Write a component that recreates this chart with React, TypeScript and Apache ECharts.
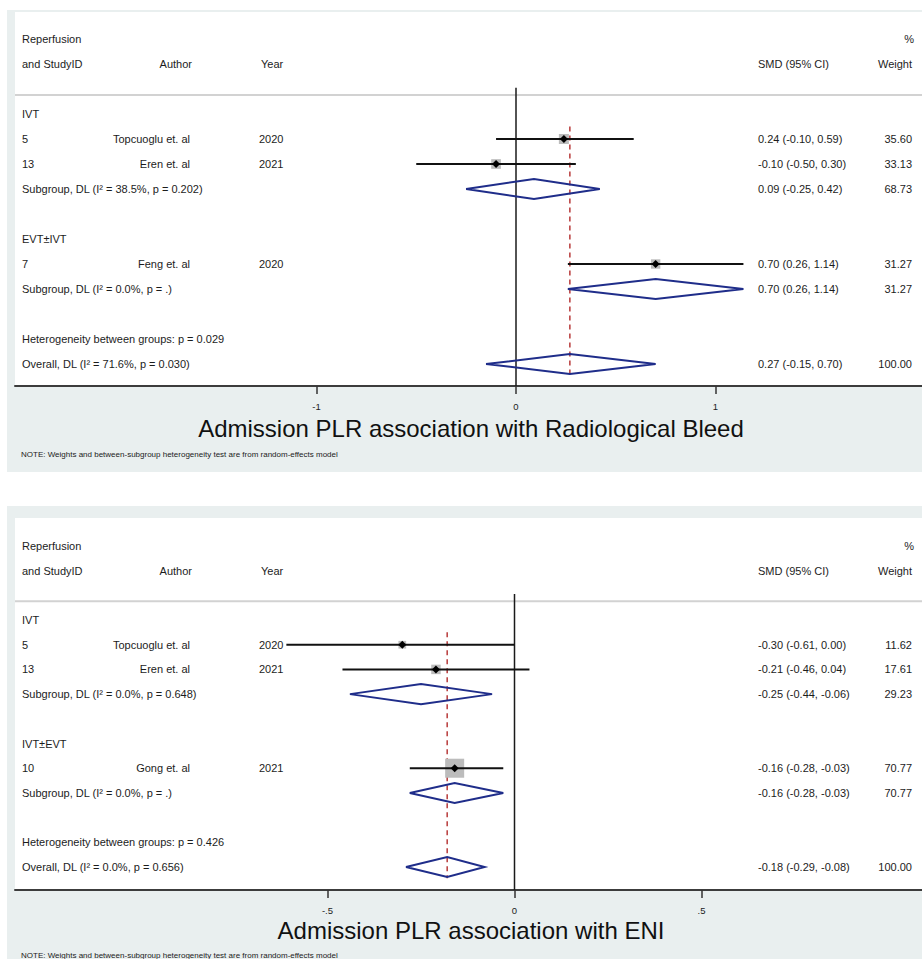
import React, { useEffect, useRef } from "react";
import * as echarts from "echarts";

// ---------- Panel 1: Radiological Bleed ----------
const p1Title = "Admission PLR association with Radiological Bleed";
const p1Groups = ["IVT", "EVT±IVT"];
const p1StudyIds = ["5", "13", "7"];
const p1Authors = ["Topcuoglu et. al", "Eren et. al", "Feng et. al"];
const p1Years = ["2020", "2021", "2020"];
const p1StudyGroup = [0, 0, 1];
const p1Smd = [0.24, -0.1, 0.7];
const p1Lower = [-0.1, -0.5, 0.26];
const p1Upper = [0.59, 0.3, 1.14];
const p1Weight = [35.6, 33.13, 31.27];
const p1SubLabels = ["Subgroup, DL (I² = 38.5%, p = 0.202)", "Subgroup, DL (I² = 0.0%, p = .)"];
const p1SubSmd = [0.09, 0.7];
const p1SubLower = [-0.25, 0.26];
const p1SubUpper = [0.42, 1.14];
const p1SubWeight = [68.73, 31.27];
const p1Het = "Heterogeneity between groups: p = 0.029";
const p1OverallLabel = "Overall, DL (I² = 71.6%, p = 0.030)";
const p1Overall = [0.27, -0.15, 0.7, 100.0]; // smd, lower, upper, weight
const p1TickValues = [-1, 0, 1];
const p1TickLabels = ["-1", "0", "1"];

// ---------- Panel 2: ENI ----------
const p2Title = "Admission PLR association with ENI";
const p2Groups = ["IVT", "IVT±EVT"];
const p2StudyIds = ["5", "13", "10"];
const p2Authors = ["Topcuoglu et. al", "Eren et. al", "Gong et. al"];
const p2Years = ["2020", "2021", "2021"];
const p2StudyGroup = [0, 0, 1];
const p2Smd = [-0.3, -0.21, -0.16];
const p2Lower = [-0.61, -0.46, -0.28];
const p2Upper = [0.0, 0.04, -0.03];
const p2Weight = [11.62, 17.61, 70.77];
const p2SubLabels = ["Subgroup, DL (I² = 0.0%, p = 0.648)", "Subgroup, DL (I² = 0.0%, p = .)"];
const p2SubSmd = [-0.25, -0.16];
const p2SubLower = [-0.44, -0.28];
const p2SubUpper = [-0.06, -0.03];
const p2SubWeight = [29.23, 70.77];
const p2Het = "Heterogeneity between groups: p = 0.426";
const p2OverallLabel = "Overall, DL (I² = 0.0%, p = 0.656)";
const p2Overall = [-0.18, -0.29, -0.08, 100.0];
const p2TickValues = [-0.5, 0, 0.5];
const p2TickLabels = ["-.5", "0", ".5"];

// ---------- Shared texts ----------
const headerTop = ["Reperfusion", "%"];
const headerBottom = ["and StudyID", "Author", "Year", "SMD (95% CI)", "Weight"];
const noteText = "NOTE: Weights and between-subgroup heterogeneity test are from random-effects model";

// ---------- Layout / style constants ----------
const FONT = "Liberation Sans, Arial, Helvetica, sans-serif";
const TXT = "#1c1c1c";
const NAVY = "#1f2d8a";
const COL_ID = 22;
const COL_AUTHOR = 190;
const COL_YEAR = 259;
const COL_CI = 758;
const COL_W = 912;

type Row = {
  kind: string;
  r: number;
  label?: string;
  id?: string;
  author?: string;
  year?: string;
  est?: number;
  lo?: number;
  hi?: number;
  w?: number;
};

function fmt(v: number) {
  return v.toFixed(2);
}

function buildRows(d: any): Row[] {
  const rows: Row[] = [];
  rows.push({ kind: "header1", r: -3 });
  rows.push({ kind: "header2", r: -2 });
  rows.push({ kind: "sep", r: -0.76 });
  rows.push({ kind: "zero", r: -1.05, est: 0 });
  rows.push({ kind: "ref", r: 0.5, est: d.overall[0] });
  let r = 0;
  d.groups.forEach((g: string, gi: number) => {
    rows.push({ kind: "group", r, label: g });
    r++;
    d.studyGroup.forEach((sg: number, si: number) => {
      if (sg !== gi) return;
      rows.push({
        kind: "study",
        r,
        id: d.ids[si],
        author: d.authors[si],
        year: d.years[si],
        est: d.smd[si],
        lo: d.lower[si],
        hi: d.upper[si],
        w: d.weight[si],
      });
      r++;
    });
    rows.push({
      kind: "sub",
      r,
      label: d.subLabels[gi],
      est: d.subSmd[gi],
      lo: d.subLower[gi],
      hi: d.subUpper[gi],
      w: d.subWeight[gi],
    });
    r++;
    r++; // blank row
  });
  rows.push({ kind: "het", r, label: d.het });
  r++;
  rows.push({
    kind: "overall",
    r,
    label: d.overallLabel,
    est: d.overall[0],
    lo: d.overall[1],
    hi: d.overall[2],
    w: d.overall[3],
  });
  return rows;
}

const panel1 = buildRows({
  groups: p1Groups, ids: p1StudyIds, authors: p1Authors, years: p1Years, studyGroup: p1StudyGroup,
  smd: p1Smd, lower: p1Lower, upper: p1Upper, weight: p1Weight,
  subLabels: p1SubLabels, subSmd: p1SubSmd, subLower: p1SubLower, subUpper: p1SubUpper, subWeight: p1SubWeight,
  het: p1Het, overallLabel: p1OverallLabel, overall: p1Overall,
});
const panel2 = buildRows({
  groups: p2Groups, ids: p2StudyIds, authors: p2Authors, years: p2Years, studyGroup: p2StudyGroup,
  smd: p2Smd, lower: p2Lower, upper: p2Upper, weight: p2Weight,
  subLabels: p2SubLabels, subSmd: p2SubSmd, subLower: p2SubLower, subUpper: p2SubUpper, subWeight: p2SubWeight,
  het: p2Het, overallLabel: p2OverallLabel, overall: p2Overall,
});

function txt(x: number, y: number, text: string, align = "left", size = 11) {
  return {
    type: "text",
    x,
    y,
    z2: 10,
    style: { text, fill: TXT, fontSize: size, fontFamily: FONT, align, verticalAlign: "middle" },
  };
}

function makeRender(rows: Row[], boxK: number, yMax: number, refEnd: number) {
  return (params: any, api: any) => {
    const row = rows[params.dataIndex];
    const cs = params.coordSys;
    const y = api.coord([0, row.r])[1];
    const ch: any[] = [];
    const ciText = (rw: Row) => `${fmt(rw.est!)} (${fmt(rw.lo!)}, ${fmt(rw.hi!)})`;
    switch (row.kind) {
      case "header1":
        ch.push(txt(COL_ID, y, headerTop[0]));
        ch.push(txt(COL_W + 2, y, headerTop[1], "right"));
        break;
      case "header2":
        ch.push(txt(COL_ID, y, headerBottom[0]));
        ch.push(txt(COL_AUTHOR + 2, y, headerBottom[1], "right"));
        ch.push(txt(COL_YEAR + 2, y, headerBottom[2]));
        ch.push(txt(COL_CI, y, headerBottom[3]));
        ch.push(txt(COL_W, y, headerBottom[4], "right"));
        break;
      case "sep":
        ch.push({
          type: "line",
          shape: { x1: cs.x, y1: y, x2: cs.x + cs.width, y2: y },
          style: { stroke: "#d2d2d2", lineWidth: 2 },
        });
        break;
      case "zero": {
        const p0 = api.coord([0, row.r]);
        const p1 = api.coord([0, yMax]);
        ch.push({
          type: "line",
          shape: { x1: p0[0], y1: p0[1], x2: p1[0], y2: p1[1] },
          style: { stroke: "#1a1a1a", lineWidth: 1.5 },
        });
        break;
      }
      case "ref": {
        const p0 = api.coord([row.est, row.r]);
        const p1 = api.coord([row.est, refEnd]);
        ch.push({
          type: "line",
          shape: { x1: p0[0], y1: p0[1], x2: p1[0], y2: p1[1] },
          style: { stroke: "#b83a3a", lineWidth: 1.5, lineDash: [5, 4] },
        });
        break;
      }
      case "group":
        ch.push(txt(COL_ID, y, row.label!));
        break;
      case "het":
        ch.push(txt(COL_ID, y, row.label!));
        break;
      case "study": {
        const xl = api.coord([row.lo, row.r])[0];
        const xr = api.coord([row.hi, row.r])[0];
        const xe = api.coord([row.est, row.r])[0];
        const s = boxK * Math.sqrt(row.w!);
        ch.push({
          type: "rect",
          shape: { x: xe - s / 2, y: y - s / 2, width: s, height: s },
          style: { fill: "#bcbcbc" },
        });
        ch.push({
          type: "line",
          shape: { x1: xl, y1: y, x2: xr, y2: y },
          style: { stroke: "#111", lineWidth: 2 },
        });
        ch.push({
          type: "polygon",
          shape: { points: [[xe - 4, y], [xe, y - 4], [xe + 4, y], [xe, y + 4]] },
          style: { fill: "#000" },
        });
        ch.push(txt(COL_ID, y, row.id!));
        ch.push(txt(COL_AUTHOR, y, row.author!, "right"));
        ch.push(txt(COL_YEAR, y, row.year!));
        ch.push(txt(COL_CI, y, ciText(row)));
        ch.push(txt(COL_W, y, fmt(row.w!), "right"));
        break;
      }
      case "sub":
      case "overall": {
        const xl = api.coord([row.lo, row.r])[0];
        const xr = api.coord([row.hi, row.r])[0];
        const xe = api.coord([row.est, row.r])[0];
        ch.push({
          type: "polygon",
          shape: { points: [[xl, y], [xe, y - 10], [xr, y], [xe, y + 10]] },
          style: { fill: "none", stroke: NAVY, lineWidth: 2 },
        });
        ch.push(txt(COL_ID, y, row.label!));
        ch.push(txt(COL_CI, y, ciText(row)));
        ch.push(txt(COL_W, y, fmt(row.w!), "right"));
        break;
      }
    }
    return { type: "group", children: ch };
  };
}

function xAxisFor(gridIndex: number, min: number, max: number, ticks: number[], labels: string[]) {
  return {
    type: "value",
    gridIndex,
    min,
    max,
    position: "bottom",
    axisLine: { show: true, onZero: false, lineStyle: { color: "#3c3c3c", width: 2 } },
    axisTick: { show: true, customValues: ticks, length: 8, lineStyle: { color: "#333", width: 1.5 } },
    axisLabel: {
      show: true,
      customValues: ticks,
      formatter: (v: number) => {
        const i = ticks.findIndex((t) => Math.abs(t - v) < 1e-9);
        return i >= 0 ? labels[i] : "";
      },
      fontSize: 9.5,
      fontFamily: FONT,
      color: TXT,
      margin: 15,
    },
    splitLine: { show: false },
  };
}

export default function App() {
  const ref = useRef<HTMLDivElement>(null);
  useEffect(() => {
    if (!ref.current) return;
    const chart = echarts.init(ref.current, undefined, { renderer: "svg" });
    const y1Min = -4.08, y1Max = 10.88;
    const y2Min = -4.13, y2Max = 10.93;
    chart.setOption({
      animation: false,
      backgroundColor: "#ffffff",
      grid: [
        { left: 15, right: 0, top: 12, height: 374, show: false },
        { left: 15, right: 0, top: 518, height: 372, show: false },
      ],
      xAxis: [
        xAxisFor(0, -2.5113, 2.0351, p1TickValues, p1TickLabels),
        xAxisFor(1, -1.3356, 1.0896, p2TickValues, p2TickLabels),
      ],
      yAxis: [
        { type: "value", gridIndex: 0, min: y1Min, max: y1Max, inverse: true, show: false },
        { type: "value", gridIndex: 1, min: y2Min, max: y2Max, inverse: true, show: false },
      ],
      graphic: {
        elements: [
          { type: "rect", z: -100, shape: { x: 7, y: 10, width: 915, height: 462 }, style: { fill: "#e9efef" } },
          { type: "rect", z: -99, shape: { x: 15, y: 12, width: 907, height: 374 }, style: { fill: "#ffffff" } },
          { type: "rect", z: -100, shape: { x: 7, y: 506, width: 915, height: 460 }, style: { fill: "#e9efef" } },
          { type: "rect", z: -99, shape: { x: 15, y: 518, width: 907, height: 372 }, style: { fill: "#ffffff" } },
          {
            type: "text", x: 471, y: 428, z: 10,
            style: { text: p1Title, fill: "#111", fontSize: 24, fontFamily: FONT, align: "center", verticalAlign: "middle" },
          },
          {
            type: "text", x: 21, y: 454, z: 10,
            style: { text: noteText, fill: "#222", fontSize: 8, fontFamily: FONT, align: "left", verticalAlign: "middle" },
          },
          {
            type: "text", x: 471, y: 930, z: 10,
            style: { text: p2Title, fill: "#111", fontSize: 24, fontFamily: FONT, align: "center", verticalAlign: "middle" },
          },
          {
            type: "text", x: 21, y: 955, z: 10,
            style: { text: noteText, fill: "#222", fontSize: 8, fontFamily: FONT, align: "left", verticalAlign: "middle" },
          },
        ],
      },
      series: [
        {
          type: "custom",
          xAxisIndex: 0,
          yAxisIndex: 0,
          clip: false,
          silent: true,
          data: panel1.map((r) => [r.est ?? 0, r.r]),
          renderItem: makeRender(panel1, 1.68, y1Max, 10.36),
        },
        {
          type: "custom",
          xAxisIndex: 1,
          yAxisIndex: 1,
          clip: false,
          silent: true,
          data: panel2.map((r) => [r.est ?? 0, r.r]),
          renderItem: makeRender(panel2, 2.26, y2Max, 10.45),
        },
      ],
    });
    return () => chart.dispose();
  }, []);
  return (
    <div
      ref={ref}
      style={{ position: "absolute", left: 0, top: 0, width: 922, height: 959 }}
    />
  );
}
